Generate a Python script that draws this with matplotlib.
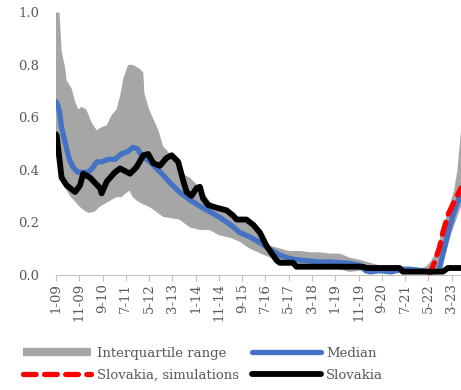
import matplotlib
matplotlib.use("Agg")
import matplotlib.pyplot as plt
from matplotlib.lines import Line2D

# month index (0 = Jan 2009)
tick_months = [0, 10, 20, 30, 40, 50, 60, 70, 80, 90, 100, 110, 120, 130, 140, 150, 160, 170]
tick_labels = ["1-09", "11-09", "9-10", "7-11", "5-12", "3-13", "1-14", "11-14", "9-15",
               "7-16", "5-17", "3-18", "1-19", "11-19", "9-20", "7-21", "5-22", "3-23"]

iqr_hi_m = [0, 1.5, 2.4, 3.9, 4.6, 6.7, 8.2, 9.6, 11, 13, 15.3, 17.5, 19, 21.8, 24, 26, 27.5, 29,
            31, 33, 36, 37.5, 38, 40, 42.5, 44, 46, 48, 53, 55, 57.5, 62, 66, 70, 75, 79, 83, 88,
            92, 96, 100, 105, 109, 113, 118, 122, 126, 131, 135, 139, 144, 148, 152, 157, 159,
            161, 163, 165, 167, 169, 171, 172.5, 174]
iqr_hi = [1.0, 1.0, 0.855, 0.79, 0.74, 0.71, 0.66, 0.63, 0.64, 0.63, 0.58, 0.55, 0.56, 0.57, 0.61,
          0.63, 0.68, 0.75, 0.80, 0.80, 0.785, 0.77, 0.69, 0.63, 0.58, 0.55, 0.49, 0.47, 0.42,
          0.38, 0.37, 0.33, 0.28, 0.245, 0.235, 0.215, 0.19, 0.14, 0.11, 0.10, 0.09, 0.09, 0.085,
          0.085, 0.08, 0.08, 0.065, 0.055, 0.045, 0.035, 0.035, 0.03, 0.03, 0.025, 0.03, 0.05,
          0.08, 0.14, 0.20, 0.26, 0.32, 0.40, 0.55]

iqr_lo_m = [0, 2, 4, 6, 8, 10, 12, 14, 16.6, 19, 21, 23, 25.8, 28, 30, 31.5, 33, 35, 37, 39.6,
            41.5, 43.7, 46, 53, 57.5, 62, 66, 70, 75, 79, 83, 88, 92, 96, 100, 105, 109, 113,
            118, 122, 126, 131, 135, 139, 144, 148, 152, 157, 161, 164, 166, 168, 170, 172, 174]
iqr_lo = [0.52, 0.40, 0.33, 0.30, 0.28, 0.26, 0.245, 0.235, 0.24, 0.26, 0.27, 0.28, 0.295, 0.295,
          0.31, 0.32, 0.295, 0.28, 0.27, 0.26, 0.25, 0.235, 0.22, 0.21, 0.18, 0.17, 0.17, 0.15,
          0.14, 0.125, 0.10, 0.08, 0.065, 0.05, 0.04, 0.035, 0.035, 0.03, 0.025, 0.02, 0.01,
          0.015, 0.01, 0.005, 0.005, 0.005, 0.005, 0.005, 0.005, 0.01, 0.05, 0.10, 0.16, 0.21,
          0.26]

median_m = [0, 1, 1.7, 2.4, 4.3, 5.7, 7.3, 9.4, 11.6, 13.8, 16, 17.5, 19.6, 22.5, 25.4, 28, 31,
            33, 35, 37, 39, 41.5, 43.7, 46, 49, 53, 57.5, 62, 66, 70, 75, 79, 83, 88, 92, 96,
            100, 105, 109, 113, 118, 122, 126, 130.5, 133, 135, 139, 144, 148, 152, 157, 161,
            164.5, 165.5, 167, 169, 171.2, 173.4, 174]
median = [0.66, 0.64, 0.61, 0.56, 0.49, 0.44, 0.41, 0.39, 0.39, 0.39, 0.41, 0.43, 0.43, 0.44,
          0.44, 0.46, 0.47, 0.485, 0.48, 0.45, 0.44, 0.42, 0.40, 0.38, 0.35, 0.315, 0.285, 0.26,
          0.24, 0.22, 0.19, 0.16, 0.145, 0.12, 0.095, 0.075, 0.062, 0.055, 0.052, 0.048, 0.048,
          0.045, 0.043, 0.035, 0.015, 0.01, 0.015, 0.01, 0.02, 0.02, 0.015, 0.01, 0.015, 0.05,
          0.105, 0.18, 0.245, 0.295, 0.31]

svk_m = [0, 0.3, 2.4, 4.6, 8.2, 10.3, 11.7, 14.6, 18.9, 19.6, 21.8, 25.3, 27.5, 31.8, 34.6, 37.5,
         39.6, 41.8, 44.6, 47.5, 49.7, 52.5, 54.6, 56.1, 58.2, 60.4, 61.8, 63.2, 65.4, 69, 73.3,
         76.1, 77.6, 81.8, 84.7, 87.6, 90.4, 94.7, 96.1, 101.8, 103.3, 131.8, 133.3, 147.6, 149,
         166.2, 168.4, 174]
svk = [0.535, 0.53, 0.37, 0.34, 0.315, 0.34, 0.385, 0.37, 0.33, 0.31, 0.355, 0.39, 0.405, 0.385,
       0.41, 0.455, 0.46, 0.425, 0.415, 0.445, 0.455, 0.43, 0.36, 0.315, 0.30, 0.33, 0.335, 0.29,
       0.265, 0.255, 0.245, 0.225, 0.21, 0.21, 0.19, 0.16, 0.11, 0.055, 0.045, 0.045, 0.03, 0.03,
       0.025, 0.025, 0.011, 0.011, 0.025, 0.025]

sim_m = [160.5, 162.5, 164.8, 166.2, 168.5, 171.2, 174]
sim = [0.0, 0.044, 0.105, 0.16, 0.23, 0.28, 0.33]

gray = "#A6A6A6"
blue = "#4472C4"
txt = "#595959"
plt.rcParams["font.family"] = ["DejaVu Serif"]

fig = plt.figure(figsize=(4.61, 3.90), dpi=100)
ax = fig.add_axes([0.1215, 0.296, 0.8785, 0.672])

ax.fill(iqr_hi_m + iqr_lo_m[::-1], iqr_hi + iqr_lo[::-1], color=gray, lw=0)
ax.plot(median_m, median, color=blue, lw=3.8, solid_capstyle="round")
ax.plot(sim_m, sim, color="red", lw=3.8, dashes=(2.4, 1.6), dash_capstyle="round")
ax.plot(svk_m, svk, color="black", lw=4.2, solid_capstyle="round")

ax.set_xlim(0, 174)
ax.set_ylim(0, 1.0)
ax.set_yticks([0, 0.2, 0.4, 0.6, 0.8, 1.0])
ax.set_yticklabels(["0.0", "0.2", "0.4", "0.6", "0.8", "1.0"])
ax.set_xticks(tick_months)
ax.set_xticklabels(tick_labels, rotation=90)
ax.tick_params(axis="y", length=0, pad=12, labelsize=9.5, labelcolor=txt)
ax.tick_params(axis="x", length=4, color="#BFBFBF", width=0.8, labelsize=9.5,
               labelcolor=txt, pad=2)
for s in ["top", "right", "left"]:
    ax.spines[s].set_visible(False)
ax.spines["bottom"].set_color("#BFBFBF")
ax.spines["bottom"].set_linewidth(0.8)

handles = [
    Line2D([], [], color=gray, lw=6, solid_capstyle="butt"),
    Line2D([], [], color="red", lw=3.8, dashes=(2.4, 1.6), dash_capstyle="round"),
    Line2D([], [], color=blue, lw=3.8, solid_capstyle="round"),
    Line2D([], [], color="black", lw=4.2, solid_capstyle="round"),
]
labels = ["Interquartile range", "Slovakia, simulations", "Median", "Slovakia"]
leg = fig.legend(handles, labels, ncol=2, loc="center", bbox_to_anchor=(0.44, 0.066),
                 frameon=False, handlelength=5.2, handletextpad=0.4, columnspacing=1.0,
                 labelspacing=0.65, fontsize=9.5)
for t in leg.get_texts():
    t.set_color(txt)

fig.savefig("out.png", dpi=100)
